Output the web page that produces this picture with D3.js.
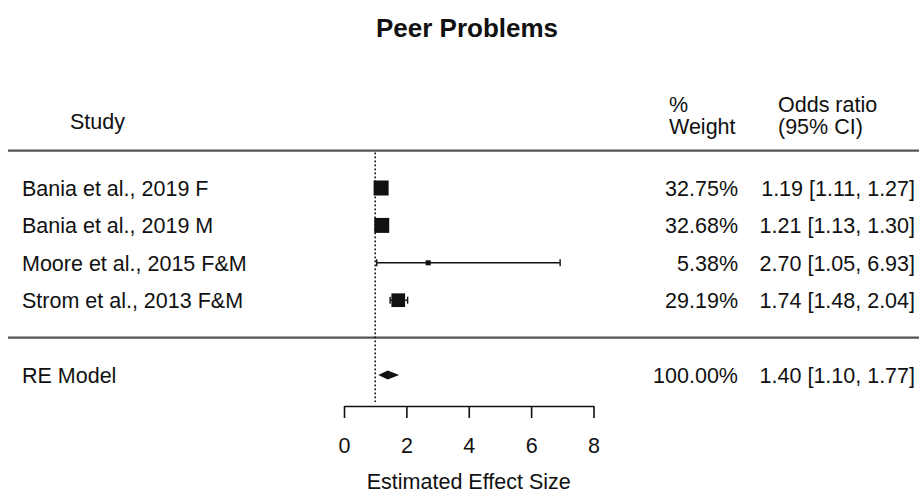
<!DOCTYPE html>
<html>
<head>
<meta charset="utf-8">
<script src="https://cdn.jsdelivr.net/npm/d3@7"></script>
<style>
  html, body { margin: 0; padding: 0; background: #fff; }
  svg { display: block; font-family: "Liberation Sans", Arial, sans-serif; }
</style>
</head>
<body>
<svg id="chart" width="919" height="496"></svg>
<script>
// ---- data ----
const studies   = ["Bania et al., 2019 F", "Bania et al., 2019 M", "Moore et al., 2015 F&M", "Strom et al., 2013 F&M"];
const estimates = [1.19, 1.21, 2.70, 1.74];
const ciLower   = [1.11, 1.13, 1.05, 1.48];
const ciUpper   = [1.27, 1.30, 6.93, 2.04];
const weights   = [32.75, 32.68, 5.38, 29.19];
const modelLabel = "RE Model";
const modelEst  = 1.40, modelLower = 1.10, modelUpper = 1.77, modelWeight = 100.00;
const xTicks    = [0, 2, 4, 6, 8];
const refValue  = 1;
const title = "Peer Problems";
const xLabel = "Estimated Effect Size";

// ---- layout ----
const W = 919, H = 496;
const FS = 21.5;
const svg = d3.select("#chart");
const ink = "#111";

const x = d3.scaleLinear().domain([0, 8]).range([344, 593.5]);
// row index -> y (header line = -1, studies 0..3, separator 4, model 5)
const y = d3.scaleLinear().domain([0, 1]).range([188, 225.4]);
const size = d3.scaleLinear().domain(d3.extent(weights)).range([5, 15]);
const fmt2 = d3.format(".2f");

// title
svg.append("text").attr("x", 467).attr("y", 37).attr("text-anchor", "middle")
  .attr("font-size", 26).attr("font-weight", "bold").attr("fill", ink).text(title);

// headers
svg.append("text").attr("x", 70).attr("y", 129).attr("font-size", FS).attr("fill", ink).text("Study");
svg.append("text").attr("x", 669).attr("y", 112).attr("font-size", FS).attr("fill", ink).text("%");
svg.append("text").attr("x", 669).attr("y", 134).attr("font-size", FS).attr("fill", ink).text("Weight");
svg.append("text").attr("x", 778).attr("y", 112).attr("font-size", FS).attr("fill", ink).text("Odds ratio");
svg.append("text").attr("x", 778).attr("y", 134).attr("font-size", FS).attr("fill", ink).text("(95% CI)");

// horizontal rules
[-1, 4].forEach(k => {
  svg.append("line").attr("x1", 8).attr("x2", W).attr("y1", y(k)).attr("y2", y(k))
    .attr("stroke", "#555").attr("stroke-width", 2.2);
});

// reference dotted line
svg.append("line").attr("x1", x(refValue)).attr("x2", x(refValue))
  .attr("y1", y(-1) + 2).attr("y2", 402)
  .attr("stroke", ink).attr("stroke-width", 1.6).attr("stroke-dasharray", "1.6,2.4");

// study rows
const rows = svg.append("g").selectAll("g").data(studies).join("g");
rows.append("line")
  .attr("x1", (d, i) => x(ciLower[i])).attr("x2", (d, i) => x(ciUpper[i]))
  .attr("y1", (d, i) => y(i)).attr("y2", (d, i) => y(i))
  .attr("stroke", ink).attr("stroke-width", 1.4);
[ciLower, ciUpper].forEach(arr => {
  rows.append("line")
    .attr("x1", (d, i) => x(arr[i])).attr("x2", (d, i) => x(arr[i]))
    .attr("y1", (d, i) => y(i) - 3.5).attr("y2", (d, i) => y(i) + 3.5)
    .attr("stroke", ink).attr("stroke-width", 1.4);
});
rows.append("rect")
  .attr("x", (d, i) => x(estimates[i]) - size(weights[i]) / 2)
  .attr("y", (d, i) => y(i) - size(weights[i]) / 2)
  .attr("width", (d, i) => size(weights[i]))
  .attr("height", (d, i) => size(weights[i]))
  .attr("fill", ink);
rows.append("text").attr("x", 22).attr("y", (d, i) => y(i) + FS * 0.36)
  .attr("font-size", FS).attr("fill", ink).text(d => d);
rows.append("text").attr("x", 738).attr("y", (d, i) => y(i) + FS * 0.36)
  .attr("text-anchor", "end").attr("font-size", FS).attr("fill", ink)
  .text((d, i) => fmt2(weights[i]) + "%");
rows.append("text").attr("x", 915).attr("y", (d, i) => y(i) + FS * 0.36)
  .attr("text-anchor", "end").attr("font-size", FS).attr("fill", ink)
  .text((d, i) => `${fmt2(estimates[i])} [${fmt2(ciLower[i])}, ${fmt2(ciUpper[i])}]`);

// model row
const ym = y(5);
svg.append("path")
  .attr("d", `M${x(modelLower)},${ym} L${x(modelEst)},${ym - 4.5} L${x(modelUpper)},${ym} L${x(modelEst)},${ym + 4.5} Z`)
  .attr("fill", ink);
svg.append("text").attr("x", 22).attr("y", ym + FS * 0.36).attr("font-size", FS).attr("fill", ink).text(modelLabel);
svg.append("text").attr("x", 738).attr("y", ym + FS * 0.36).attr("text-anchor", "end")
  .attr("font-size", FS).attr("fill", ink).text(fmt2(modelWeight) + "%");
svg.append("text").attr("x", 915).attr("y", ym + FS * 0.36).attr("text-anchor", "end")
  .attr("font-size", FS).attr("fill", ink)
  .text(`${fmt2(modelEst)} [${fmt2(modelLower)}, ${fmt2(modelUpper)}]`);

// x axis
const axis = svg.append("g").attr("transform", "translate(0,406)")
  .call(d3.axisBottom(x).tickValues(xTicks).tickFormat(d3.format("d")).tickSize(12).tickSizeOuter(0).tickPadding(20));
axis.select(".domain").attr("stroke", ink).attr("stroke-width", 1.6);
axis.selectAll(".tick line").attr("stroke", ink).attr("stroke-width", 1.6);
axis.selectAll(".tick text").attr("font-size", FS).attr("fill", ink).attr("font-family", "Liberation Sans, Arial, sans-serif");

svg.append("text").attr("x", (x(0) + x(8)) / 2).attr("y", 489).attr("text-anchor", "middle")
  .attr("font-size", FS).attr("fill", ink).text(xLabel);
</script>
</body>
</html>
